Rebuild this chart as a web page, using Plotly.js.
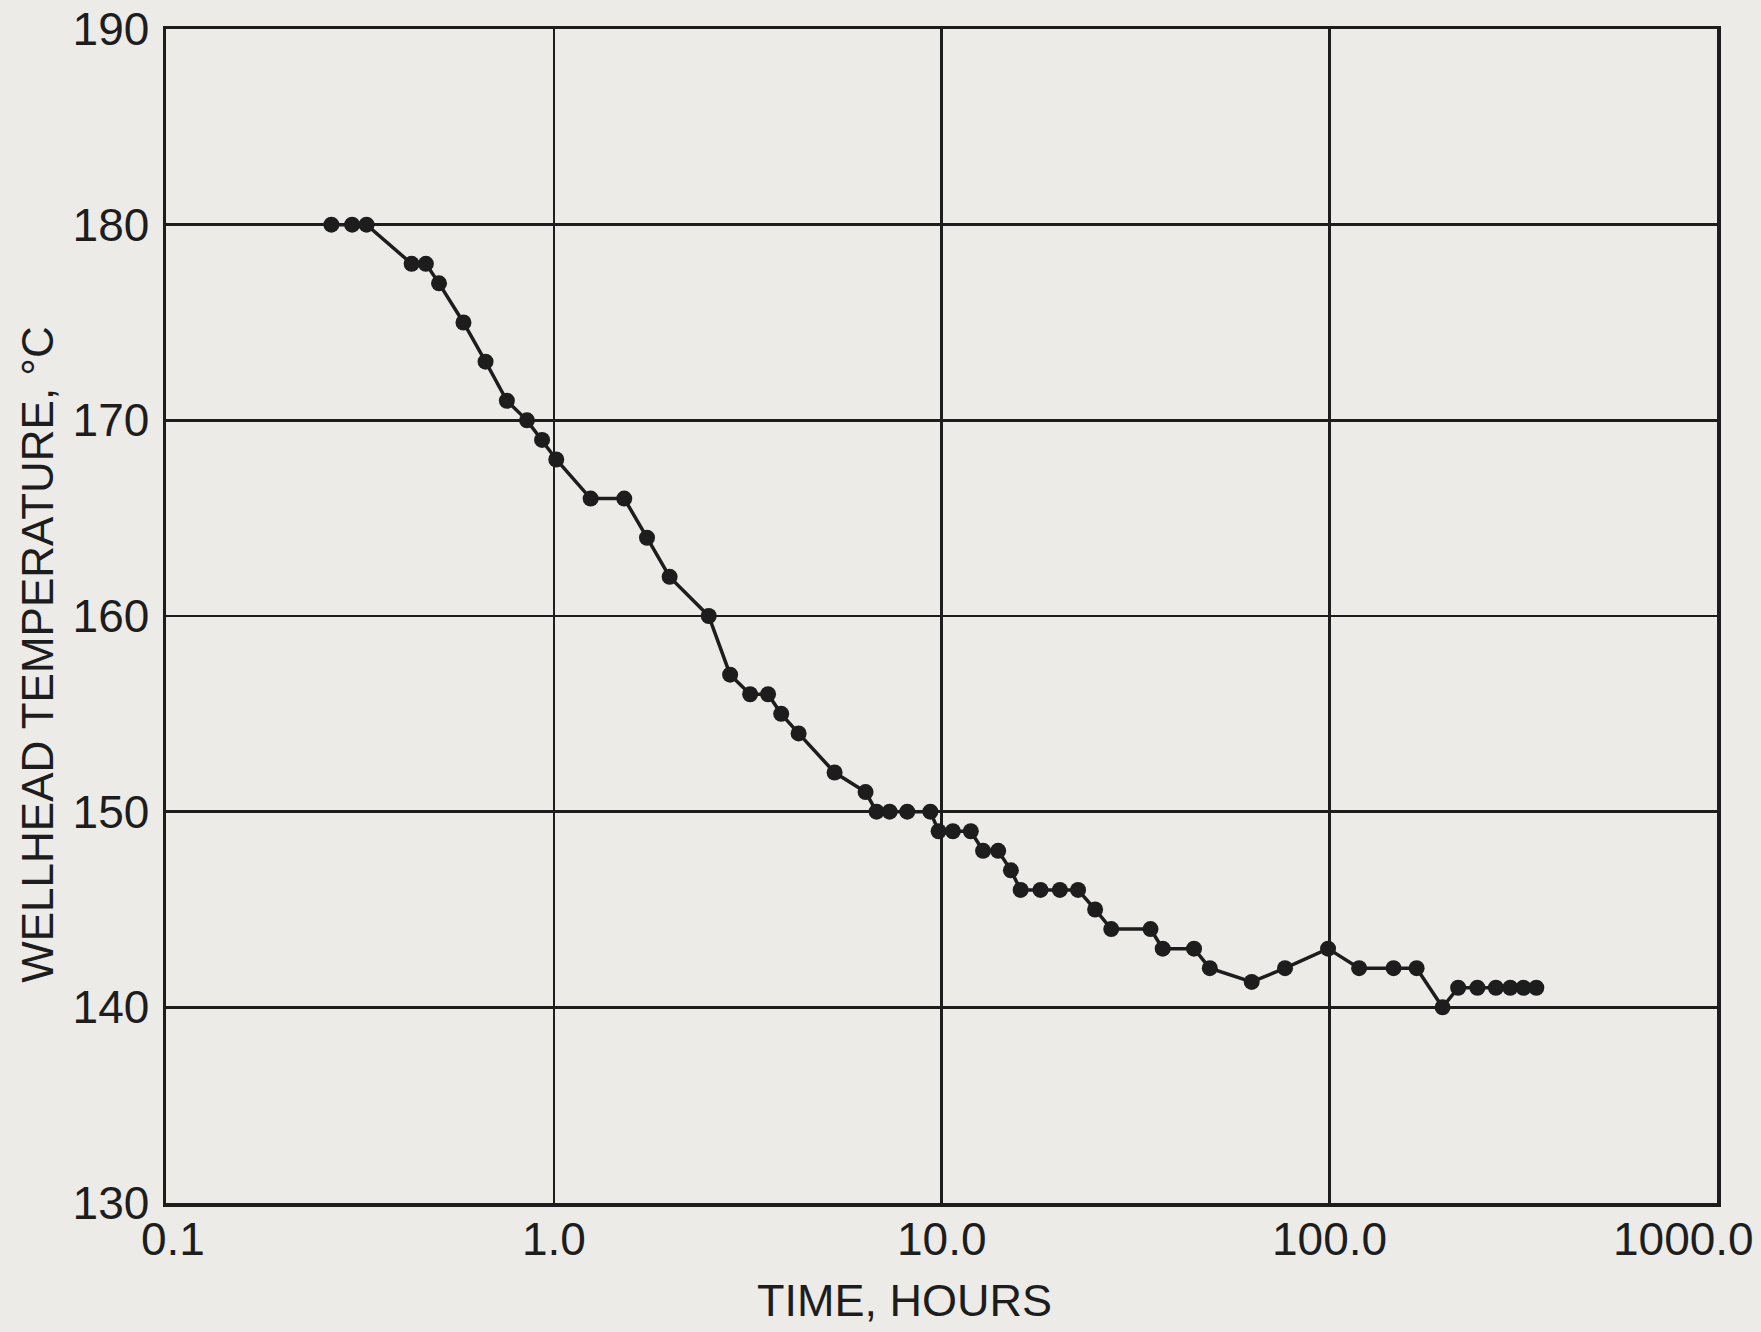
<!DOCTYPE html>
<html>
<head>
<meta charset="utf-8">
<script src="https://cdn.plot.ly/plotly-3.0.1.min.js"></script>
<style>
  html, body { margin: 0; padding: 0; background: #ecebe8; }
  #chart { width: 1761px; height: 1332px; }
</style>
</head>
<body>
<div id="chart"></div>
<script>
// Time, hours (log scale)
const timeHours = [0.267, 0.302, 0.329, 0.430, 0.468, 0.506, 0.585, 0.667, 0.757, 0.853,
  0.933, 1.015, 1.245, 1.52, 1.74, 1.99, 2.51, 2.85, 3.21, 3.57,
  3.86, 4.28, 5.30, 6.37, 6.80, 7.35, 8.16, 9.36, 9.83, 10.7,
  11.9, 12.8, 14.0, 15.1, 16.0, 18.0, 20.2, 22.5, 24.9, 27.4,
  34.6, 37.2, 44.8, 49.2, 63.1, 76.9, 99.3, 119.4, 146.5, 168,
  196, 215, 241, 269, 293, 317, 342];
// Wellhead temperature, °C
const wellheadTemp = [180, 180, 180, 178, 178, 177, 175, 173, 171, 170,
  169, 168, 166, 166, 164, 162, 160, 157, 156, 156,
  155, 154, 152, 151, 150, 150, 150, 150, 149, 149,
  149, 148, 148, 147, 146, 146, 146, 146, 145, 144,
  144, 143, 143, 142, 141.3, 142, 143, 142, 142, 142,
  140, 141, 141, 141, 141, 141, 141];

const xTickVals = [0.1, 1, 10, 100, 1000];
const xTickText = ["0.1", "1.0", "10.0", "100.0", "1000.0"];
const yTickVals = [130, 140, 150, 160, 170, 180, 190];
const yTickText = ["130", "140", "150", "160", "170", "180", "190"];
const xTitle = "TIME, HOURS";
const yTitle = "WELLHEAD TEMPERATURE, °C";

const ink = "#1d1d1d";
const bg = "#ecebe8";
const fontFam = "Liberation Sans, Arial, sans-serif";

const trace = {
  x: timeHours,
  y: wellheadTemp,
  type: "scatter",
  mode: "lines+markers",
  line: { color: ink, width: 3.5 },
  marker: { color: ink, size: 16 },
  showlegend: false,
  hoverinfo: "x+y"
};

// x tick labels as annotations (the last one is pulled inside the page like the original)
const xShift = [7, 0, 0, 0, -34];
const annotations = xTickVals.map((v, i) => ({
  xref: "x", yref: "paper",
  x: Math.log10(v), y: 0,
  xanchor: "center", yanchor: "middle",
  xshift: xShift[i], yshift: -36,
  text: xTickText[i],
  showarrow: false,
  font: { family: fontFam, size: 46, color: ink }
}));
annotations.push({
  xref: "paper", yref: "paper",
  x: 0.476, y: 0, xanchor: "center", yanchor: "middle", yshift: -97,
  text: xTitle, showarrow: false,
  font: { family: fontFam, size: 45, color: ink }
});
annotations.push({
  xref: "paper", yref: "paper",
  x: -0.0825, y: 0.467, xanchor: "center", yanchor: "middle",
  textangle: -90,
  text: yTitle, showarrow: false,
  font: { family: fontFam, size: 44, color: ink }
});

const layout = {
  width: 1761,
  height: 1332,
  paper_bgcolor: bg,
  plot_bgcolor: bg,
  margin: { l: 166, r: 44, t: 29, b: 129 },
  xaxis: {
    type: "log",
    range: [-1, 3],
    tickvals: xTickVals,
    ticktext: xTickText,
    showticklabels: false,
    showgrid: true,
    gridcolor: ink,
    gridwidth: 2.5,
    zeroline: false,
    showline: true,
    linecolor: ink,
    linewidth: 3.5,
    mirror: true,
    ticks: ""
  },
  yaxis: {
    range: [130, 190],
    tickvals: yTickVals,
    ticktext: yTickText,
    tickfont: { family: fontFam, size: 46, color: ink },
    ticklabelstandoff: 4,
    showgrid: true,
    gridcolor: ink,
    gridwidth: 2.5,
    zeroline: false,
    showline: true,
    linecolor: ink,
    linewidth: 3.5,
    mirror: true,
    ticks: ""
  },
  annotations: annotations
};

Plotly.newPlot("chart", [trace], layout, { staticPlot: true, displayModeBar: false });
</script>
</body>
</html>
